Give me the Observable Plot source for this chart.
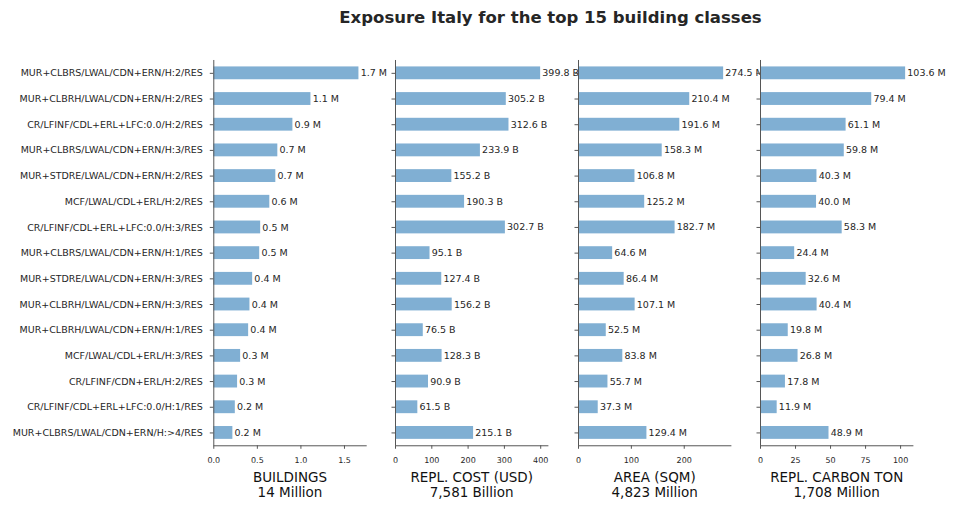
<!DOCTYPE html>
<html>
<head>
<meta charset="utf-8">
<script src="https://cdn.jsdelivr.net/npm/d3@7"></script>
<script src="https://cdn.jsdelivr.net/npm/@observablehq/plot@0.6"></script>
<style>
  body { margin: 0; background: #fff; font-family: "DejaVu Sans", sans-serif; }
  #chart { position: relative; width: 954px; height: 510px; overflow: hidden; background: #fff; }
  #title { position: absolute; left: 0; top: 10px; width: 1101px; text-align: center;
           font: bold 16.5px/1 "DejaVu Sans", sans-serif; color: #262626; white-space: nowrap; }
  #chart svg { position: absolute; top: 0; }
</style>
</head>
<body>
<div id="chart"><div id="title">Exposure Italy for the top 15 building classes</div></div>
<script>
// Top 15 building classes (taxonomy strings), in display order
const classes = [
  "MUR+CLBRS/LWAL/CDN+ERN/H:2/RES",
  "MUR+CLBRH/LWAL/CDN+ERN/H:2/RES",
  "CR/LFINF/CDL+ERL+LFC:0.0/H:2/RES",
  "MUR+CLBRS/LWAL/CDN+ERN/H:3/RES",
  "MUR+STDRE/LWAL/CDN+ERN/H:2/RES",
  "MCF/LWAL/CDL+ERL/H:2/RES",
  "CR/LFINF/CDL+ERL+LFC:0.0/H:3/RES",
  "MUR+CLBRS/LWAL/CDN+ERN/H:1/RES",
  "MUR+STDRE/LWAL/CDN+ERN/H:3/RES",
  "MUR+CLBRH/LWAL/CDN+ERN/H:3/RES",
  "MUR+CLBRH/LWAL/CDN+ERN/H:1/RES",
  "MCF/LWAL/CDL+ERL/H:3/RES",
  "CR/LFINF/CDN+ERL/H:2/RES",
  "CR/LFINF/CDL+ERL+LFC:0.0/H:1/RES",
  "MUR+CLBRS/LWAL/CDN+ERN/H:>4/RES"
];

// Number of buildings (millions)
const buildings = [1.666, 1.115, 0.908, 0.735, 0.712, 0.643, 0.538, 0.527, 0.446, 0.415, 0.400, 0.308, 0.273, 0.247, 0.219];
// Replacement cost (billion USD)
const replCost = [399.8, 305.2, 312.6, 233.9, 155.2, 190.3, 302.7, 95.1, 127.4, 156.2, 76.5, 128.3, 90.9, 61.5, 215.1];
// Built area (million sqm)
const area = [274.5, 210.4, 191.6, 158.3, 106.8, 125.2, 182.7, 64.6, 86.4, 107.1, 52.5, 83.8, 55.7, 37.3, 129.4];
// Replacement carbon (million tons)
const carbon = [103.6, 79.4, 61.1, 59.8, 40.3, 40.0, 58.3, 24.4, 32.6, 40.4, 19.8, 26.8, 17.8, 11.9, 48.9];

const metricTitles = ["BUILDINGS", "REPL. COST (USD)", "AREA (SQM)", "REPL. CARBON TON"];
const metricTotals = ["14 Million", "7,581 Billion", "4,823 Million", "1,708 Million"];
const valueUnits = ["M", "B", "M", "M"];
const xTicks = [[0, 0.5, 1, 1.5], [0, 100, 200, 300, 400], [0, 100, 200], [0, 25, 50, 75, 100]];
const tickDecimals = [1, 0, 0, 0];

const series = [buildings, replCost, area, carbon];

// Layout of the four panels
const H = 510, TOP = 60, BOTTOM = 445.3, PANEL_W = 152.4;
const panelLeft = [213.3, 395.3, 577.5, 759.5];
const BAR = "#80afd3", INK = "#262626", SPINE = "#555";

const chart = document.getElementById("chart");

series.forEach((values, i) => {
  const rows = classes.map((name, k) => ({name, value: values[k]}));
  const mL = i === 0 ? panelLeft[0] : 20;
  const mR = 60;
  const svg = Plot.plot({
    width: mL + PANEL_W + mR,
    height: H,
    marginLeft: mL,
    marginRight: mR,
    marginTop: TOP,
    marginBottom: H - BOTTOM,
    style: {fontFamily: "DejaVu Sans, sans-serif", fontSize: "9.5px", color: INK, background: "transparent", overflow: "visible"},
    x: {domain: [0, d3.max(values) * 1.05]},
    y: {type: "band", domain: classes, paddingInner: 0.5, paddingOuter: 0.25, round: false},
    marks: [
      Plot.barX(rows, {x: "value", y: "name", fill: BAR}),
      Plot.text(rows, {
        x: "value", y: "name", text: d => `${d.value.toFixed(1)} ${valueUnits[i]}`,
        textAnchor: "start", dx: 1.7, fontSize: 9.5, fill: INK
      }),
      Plot.ruleX([0], {stroke: SPINE, strokeWidth: 1}),
      Plot.frame({anchor: "bottom", stroke: SPINE, strokeWidth: 1}),
      Plot.axisY({
        tickSize: 3.5, tickPadding: 7.5, label: null, stroke: SPINE, fontSize: 9.5, fill: INK,
        tickFormat: i === 0 ? d => d : () => ""
      }),
      Plot.axisX({
        ticks: xTicks[i], tickFormat: d => d.toFixed(tickDecimals[i]),
        tickSize: 3.5, tickPadding: 8, label: null, stroke: SPINE, fontSize: 8, fill: INK
      }),
      Plot.text([`${metricTitles[i]}\n${metricTotals[i]}`], {
        frameAnchor: "bottom", dy: 26, lineAnchor: "top", lineHeight: 1.11,
        fontSize: 13.5, fill: "#111", text: d => d
      })
    ]
  });
  svg.style.left = `${panelLeft[i] - mL}px`;
  chart.appendChild(svg);
});
</script>
</body>
</html>
